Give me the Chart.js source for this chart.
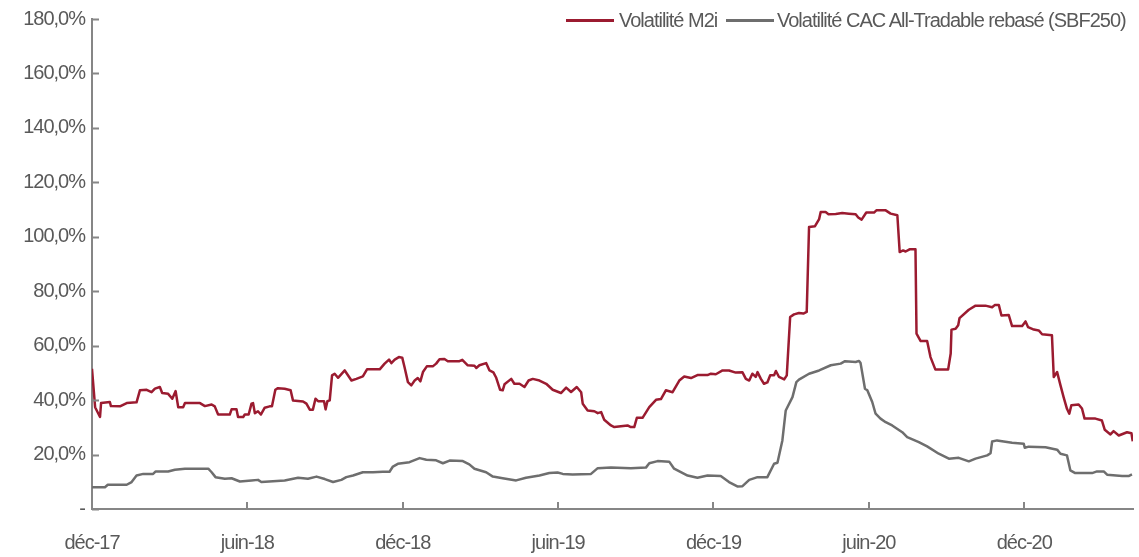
<!DOCTYPE html>
<html>
<head>
<meta charset="utf-8">
<script src="https://cdn.jsdelivr.net/npm/chart.js@4.4.1/dist/chart.umd.min.js"></script>
<style>
  html, body { margin: 0; padding: 0; background: #fff; }
  #wrap { position: relative; width: 1139px; height: 557px; }
  .leg { position: absolute; font: 20px "Liberation Sans", Arial, sans-serif; letter-spacing: -1px;
         color: #595959; line-height: 20px; white-space: nowrap; }
  .sw { position: absolute; height: 2.5px; }
</style>
</head>
<body>
<div id="wrap">
  <canvas id="chart" width="1139" height="557"></canvas>
  <div class="sw" style="left:566px; top:19px; width:48px; background:#9b1b30"></div>
  <div class="leg" style="left:619px; top:10px">Volatilité M2i</div>
  <div class="sw" style="left:726px; top:19px; width:48px; background:#6e6e6e"></div>
  <div class="leg" style="left:777px; top:10px">Volatilité CAC All-Tradable rebasé (SBF250)</div>
</div>
<script>
// x = months since déc-17
const tickLabels = ['déc-17', 'juin-18', 'déc-18', 'juin-19', 'déc-19', 'juin-20', 'déc-20'];

const m2iMonths = [0, 0.12, 0.31, 0.35, 0.69, 0.73, 1.08, 1.34, 1.72, 1.85, 2.11, 2.30, 2.43, 2.62, 2.71, 2.94, 3.10, 3.23, 3.33, 3.52,
  3.59, 4.17, 4.36, 4.62, 4.74, 4.87, 5.32, 5.39, 5.58, 5.64, 5.84, 5.90, 6.05, 6.16, 6.22, 6.29, 6.41, 6.52, 6.67, 6.86,
  6.95, 7.08, 7.18, 7.44, 7.67, 7.76, 8.15, 8.28, 8.41, 8.53, 8.63, 8.73, 8.96, 9.02, 9.09, 9.18, 9.27, 9.37, 9.50, 9.76,
  10.02, 10.21, 10.46, 10.62, 11.11, 11.30, 11.47, 11.56, 11.69, 11.85, 11.98, 12.07, 12.20, 12.33, 12.46, 12.58, 12.68, 12.78, 12.93, 13.16,
  13.29, 13.42, 13.61, 13.74, 14.19, 14.30, 14.51, 14.77, 14.84, 14.96, 15.22, 15.35, 15.50, 15.61, 15.76, 15.86, 15.93, 16.19, 16.31, 16.51,
  16.70, 16.86, 17.02, 17.28, 17.54, 17.79, 18.11, 18.31, 18.50, 18.72, 18.89, 18.95, 19.14, 19.40, 19.53, 19.66, 19.78, 20.04, 20.17, 20.68,
  20.81, 20.94, 21.04, 21.26, 21.52, 21.78, 21.97, 22.16, 22.42, 22.68, 22.87, 23.13, 23.38, 23.77, 23.90, 24.09, 24.35, 24.60, 24.86, 25.12,
  25.25, 25.38, 25.50, 25.63, 25.70, 25.83, 25.95, 26.08, 26.19, 26.34, 26.41, 26.53, 26.73, 26.83, 26.96, 27.11, 27.30, 27.47, 27.60, 27.69,
  27.92, 28.08, 28.14, 28.33, 28.44, 28.72, 28.97, 29.23, 29.49, 29.59, 29.72, 29.90, 30.20, 30.29, 30.65, 30.84, 31.10, 31.19, 31.32, 31.42,
  31.57, 31.80, 31.84, 32.00, 32.25, 32.38, 32.57, 33.06, 33.16, 33.19, 33.35, 33.45, 33.50, 33.86, 34.12, 34.50, 34.76, 34.86, 35.02, 35.12,
  35.40, 35.53, 35.92, 36.05, 36.15, 36.37, 36.56, 36.69, 37.07, 37.14, 37.27, 37.40, 37.52, 37.65, 37.74, 37.82, 38.10, 38.23, 38.33, 38.75,
  39.00, 39.11, 39.33, 39.45, 39.65, 39.97, 40.14, 40.19];
const m2iValues = [51.5, 37.4, 33.8, 38.9, 39.3, 37.8, 37.7, 38.9, 39.2, 43.6, 43.8, 42.9, 44.2, 44.8, 42.6, 42.3, 40.5, 43.3, 37.4, 37.4,
  38.9, 38.9, 37.8, 38.4, 37.7, 34.7, 34.7, 36.6, 36.6, 33.8, 33.8, 34.7, 34.7, 38.7, 38.9, 35.2, 35.9, 34.7, 37.2, 37.7,
  37.7, 43.8, 44.4, 44.2, 43.6, 39.9, 39.5, 38.7, 36.5, 36.5, 40.5, 39.6, 39.6, 36.6, 39.6, 39.9, 49.1, 49.7, 48.2, 50.9,
  47.2, 47.8, 48.7, 51.3, 51.3, 53.4, 54.9, 53.6, 54.9, 55.8, 55.6, 52.1, 46.6, 45.4, 47.2, 48.1, 46.9, 50.3, 52.4, 52.4,
  53.4, 55.0, 55.1, 54.3, 54.3, 54.8, 52.8, 52.6, 51.8, 52.8, 53.6, 50.9, 50.2, 48.2, 43.8, 43.6, 45.8, 47.8, 46.0, 46.0,
  44.8, 47.2, 47.8, 47.2, 46.0, 43.8, 42.6, 44.6, 43.0, 44.8, 42.9, 38.7, 36.2, 35.9, 35.2, 35.6, 32.8, 30.7, 30.1, 30.7,
  30.1, 30.1, 33.5, 33.5, 37.4, 40.1, 40.4, 43.6, 42.9, 47.2, 48.7, 48.1, 49.2, 49.2, 49.7, 49.5, 50.9, 50.9, 50.1, 50.2,
  47.8, 47.2, 49.7, 48.5, 50.3, 47.8, 46.0, 46.5, 49.1, 49.1, 50.7, 48.5, 47.6, 49.1, 70.5, 71.5, 72.0, 71.8, 72.4, 103.6,
  103.9, 106.5, 109.1, 109.1, 108.3, 108.4, 108.7, 108.5, 108.3, 107.1, 106.3, 108.9, 108.9, 109.7, 109.7, 108.5, 107.9, 94.4, 95.0, 94.6,
  95.4, 95.4, 64.4, 61.7, 61.7, 55.8, 51.2, 51.2, 57.1, 65.9, 66.2, 67.5, 70.1, 73.2, 74.7, 74.7, 74.1, 74.9, 74.9, 71.1,
  71.3, 67.2, 67.2, 68.9, 66.8, 65.9, 65.6, 64.2, 63.8, 48.5, 50.3, 45.4, 41.1, 36.8, 35.0, 38.1, 38.4, 36.9, 33.2, 33.2,
  32.5, 29.1, 27.4, 28.6, 27.0, 28.2, 27.8, 24.9];

const sbfMonths = [0, 0.50, 0.61, 1.34, 1.53, 1.72, 1.98, 2.36, 2.46, 2.94, 3.20, 3.59, 4.49, 4.62, 4.77, 5.13, 5.39, 5.71, 6.16, 6.41,
  6.54, 7.44, 7.96, 8.34, 8.67, 8.99, 9.31, 9.63, 9.82, 10.08, 10.46, 10.85, 11.23, 11.49, 11.62, 11.81, 12.26, 12.65, 12.91, 13.29,
  13.55, 13.81, 14.32, 14.57, 14.77, 15.22, 15.48, 15.86, 16.38, 16.76, 17.28, 17.66, 17.98, 18.18, 18.56, 19.27, 19.53, 20.04, 20.81, 21.39,
  21.52, 21.84, 22.29, 22.48, 23.00, 23.38, 23.77, 24.28, 24.60, 24.92, 25.12, 25.38, 25.70, 26.08, 26.34, 26.47, 26.66, 26.79, 27.05, 27.20,
  27.30, 27.69, 28.08, 28.53, 28.91, 29.08, 29.49, 29.62, 29.68, 29.85, 29.94, 30.13, 30.26, 30.45, 30.65, 30.90, 31.29, 31.48, 31.93, 32.25,
  32.70, 33.09, 33.47, 33.86, 34.12, 34.57, 34.70, 34.76, 34.95, 35.53, 35.98, 36.02, 36.17, 36.82, 37.27, 37.40, 37.65, 37.78, 37.97, 38.62,
  38.81, 39.07, 39.20, 39.78, 40.03, 40.16];
const sbfValues = [8.0, 8.0, 8.9, 8.9, 9.9, 12.3, 12.9, 12.9, 13.8, 13.8, 14.4, 14.8, 14.8, 13.5, 11.7, 11.1, 11.3, 10.1, 10.5, 10.7,
  9.9, 10.5, 11.5, 11.1, 11.9, 11.0, 9.9, 10.7, 11.7, 12.3, 13.5, 13.5, 13.7, 13.7, 15.6, 16.6, 17.2, 18.7, 18.1, 17.9,
  16.8, 17.8, 17.6, 16.4, 14.8, 13.5, 11.9, 11.3, 10.5, 11.5, 12.3, 13.2, 13.4, 12.9, 12.7, 12.9, 15.0, 15.2, 15.0, 15.2,
  16.8, 17.6, 17.4, 14.8, 12.3, 11.5, 12.3, 12.1, 9.9, 8.3, 8.4, 10.7, 11.7, 11.7, 16.6, 17.0, 25.2, 36.2, 41.1, 46.6,
  47.5, 49.7, 50.9, 52.8, 53.4, 54.3, 54.0, 54.4, 53.6, 44.2, 43.6, 39.3, 35.0, 33.2, 31.9, 30.7, 28.2, 26.4, 24.6, 23.0,
  20.3, 18.5, 18.8, 17.5, 18.5, 19.7, 20.5, 24.8, 25.2, 24.3, 24.0, 22.5, 22.9, 22.7, 21.8, 20.3, 19.7, 14.2, 13.2, 13.2,
  13.8, 13.8, 12.6, 12.1, 12.1, 12.7];

const RED = '#9b1b30';
const GREY = '#6e6e6e';
const AXIS = '#868686';
const TEXT = '#595959';

function toPoints(xs, ys) {
    return xs.map((x, i) => ({ x: x, y: ys[i] }));
}

// inward tick marks, as in the original
const innerTicks = {
    id: 'innerTicks',
    beforeDraw(chart) {
        chart.ctx.letterSpacing = '-1px';
    },
    afterDraw(chart) {
        const { ctx, chartArea, scales } = chart;
        ctx.save();
        ctx.strokeStyle = AXIS;
        ctx.lineWidth = 2;
        ctx.beginPath();
        scales.y.ticks.forEach(t => {
            const y = Math.round(scales.y.getPixelForValue(t.value)) + 0.5;
            ctx.moveTo(chartArea.left, y);
            ctx.lineTo(chartArea.left + 7, y);
        });
        scales.x.ticks.forEach(t => {
            const x = Math.round(scales.x.getPixelForValue(t.value));
            ctx.moveTo(x, chartArea.bottom);
            ctx.lineTo(x, chartArea.bottom - 7);
        });
        ctx.stroke();
        ctx.restore();
    }
};

new Chart(document.getElementById('chart'), {
    type: 'line',
    data: {
        datasets: [
            {
                label: 'Volatilité M2i',
                data: toPoints(m2iMonths, m2iValues),
                borderColor: RED,
                borderWidth: 2.5,
                pointRadius: 0,
                tension: 0,
                borderJoinStyle: 'round'
            },
            {
                label: 'Volatilité CAC All-Tradable rebasé (SBF250)',
                data: toPoints(sbfMonths, sbfValues),
                borderColor: GREY,
                borderWidth: 2.5,
                pointRadius: 0,
                tension: 0,
                borderJoinStyle: 'round'
            }
        ]
    },
    options: {
        responsive: false,
        animation: false,
        layout: { padding: { top: 19, right: 6, left: 0, bottom: 0 } },
        plugins: {
            legend: { display: false },
            tooltip: { enabled: false }
        },
        scales: {
            x: {
                type: 'linear',
                min: 0,
                max: 40.2,
                afterBuildTicks(scale) {
                    scale.ticks = tickLabels.map((_, i) => ({ value: i * 6 }));
                },
                afterFit(scale) { scale.height = 48; },
                grid: { display: false, drawTicks: false },
                border: { display: true, color: AXIS, width: 2 },
                ticks: {
                    color: TEXT,
                    padding: 22,
                    maxRotation: 0,
                    autoSkip: false,
                    font: { family: 'Liberation Sans', size: 20 },
                    callback: (v) => tickLabels[Math.round(v / 6)]
                }
            },
            y: {
                min: 0,
                max: 180,
                afterFit(scale) { scale.width = 92; },
                grid: { display: false, drawTicks: false },
                border: { display: true, color: AXIS, width: 2 },
                ticks: {
                    stepSize: 20,
                    color: TEXT,
                    padding: 7,
                    font: { family: 'Liberation Sans', size: 20 },
                    callback: (v) => v === 0 ? '-' : v.toFixed(1).replace('.', ',') + '%'
                }
            }
        }
    },
    plugins: [innerTicks]
});
</script>
</body>
</html>
